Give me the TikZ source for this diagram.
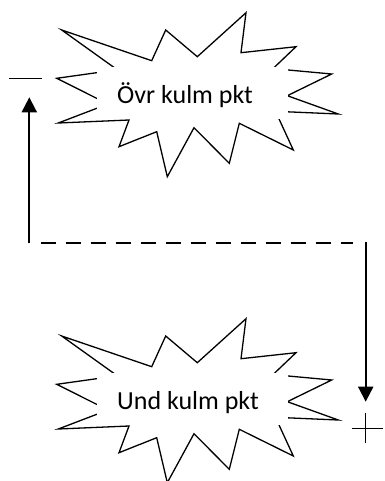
\documentclass[tikz,border=0pt]{standalone}
\usepackage{fontspec}
\setmainfont{Carlito}
\usetikzlibrary{arrows.meta}
\tikzstyle{burstline}=[draw,line width=1.3pt,line join=miter]
\tikzstyle{cover}=[fill=white,inner sep=0,minimum width=191pt,minimum height=52pt]
\tikzstyle{lbl}=[inner sep=0,font=\fontsize{26}{30}\selectfont]
\tikzstyle{arr}=[line width=2pt,-{Triangle[length=15pt,width=15pt]}]
\tikzstyle{dashline}=[line width=1.8pt,dash pattern=on 15pt off 10pt]
\tikzstyle{sign}=[line width=1.3pt]
\tikzset{burst/.pic={
  \draw[burstline] (61.7,30) -- (151.7,60.7) -- (165.7,30) -- (197.3,56.7)
    -- (246,12.7) -- (241,52.7) -- (296,46.7) -- (273,68.6)
    -- (331.7,74) -- (287.3,95.7) -- (338.3,114) -- (275.5,111.3)
    -- (293.3,150) -- (239.3,123.3) -- (229.3,163.3) -- (194,127.7)
    -- (167.3,176.7) -- (156.7,131.7) -- (119,146.7) -- (129,120)
    -- (58.3,123) -- (108,104) -- (56.7,78.3) -- (117.3,69.8) -- cycle;
}}

\begin{document}
\begin{tikzpicture}[x=1pt,y=-1pt]
    \useasboundingbox (0,0) rectangle (384,481);

    % bursts
    \pic at (0,0) {burst};
    \pic at (0,306) {burst};

    \node[cover] (ovrbox) at (192.5,93) {};
    \node[cover] (undbox) at (192.5,399) {};

    \node[lbl,anchor=base west] (ovr) at (117,103.3) {Övr kulm pkt};
    \node[lbl,anchor=base west] (und) at (117,409.3) {Und kulm pkt};

    % arrows
    \coordinate (upfoot) at (29.3,243.3);
    \coordinate (uptip) at (29.3,97.3);
    \coordinate (dashL) at (40.7,242.7);
    \coordinate (dashR) at (353,242.7);
    \coordinate (downfoot) at (365.7,241.7);
    \coordinate (downtip) at (365.7,401.7);

    \draw[arr] (upfoot) -- (uptip);
    \draw[dashline] (dashL) -- (dashR);
    \draw[arr] (downfoot) -- (downtip);

    % signs
    \coordinate (minusL) at (9.3,78.3);
    \coordinate (minusR) at (41.7,78.3);
    \coordinate (plusL) at (351.7,428.3);
    \coordinate (plusR) at (383.3,428.3);
    \coordinate (plusT) at (365.7,413.3);
    \coordinate (plusB) at (365.7,443.3);

    \draw[sign]
    (minusL) -- (minusR)
    (plusL) -- (plusR)
    (plusT) -- (plusB)
    ;

\end{tikzpicture}
\end{document}
